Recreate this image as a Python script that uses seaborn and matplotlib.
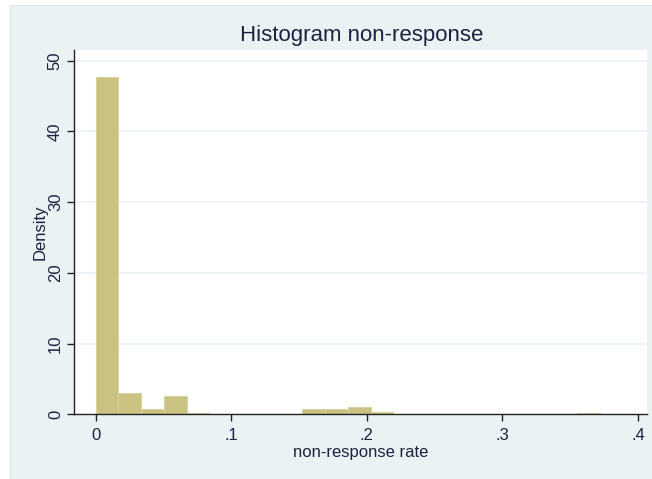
import numpy as np
import pandas as pd
import matplotlib
matplotlib.use("Agg")
import matplotlib.pyplot as plt
import seaborn as sns

# density per bin (bin start 0, width ~0.0169)
bin_start = 0.0
bin_width = 0.0169
density = [47.75, 2.97, 0.75, 2.55, 0.14, 0.0, 0.0, 0.0, 0.0, 0.75, 0.75,
           1.08, 0.28, 0.0, 0.0, 0.0, 0.0, 0.0, 0.0, 0.0, 0.0, 0.14]
x_ticks = [0, 0.1, 0.2, 0.3, 0.4]
x_tick_labels = ["0", ".1", ".2", ".3", ".4"]
y_ticks = [0, 10, 20, 30, 40, 50]

n_bins = len(density)
centers = bin_start + bin_width * (np.arange(n_bins) + 0.5)
df = pd.DataFrame({"rate": centers, "density": density})

sns.set_style("white")
plt.rcParams["font.family"] = ["Liberation Sans", "DejaVu Sans"]

text_col = "#1c2340"
outer_bg = "#eaf2f3"

fig = plt.figure(figsize=(6.52, 4.79), dpi=100)
fig.patch.set_facecolor("white")
fig.patches.append(plt.Rectangle((10 / 652, 0), 1, 474 / 479, transform=fig.transFigure,
                                 facecolor=outer_bg, edgecolor="#dde6e8", linewidth=0.8,
                                 zorder=-1))

ax = fig.add_axes([74 / 652, 64.7 / 479, 573 / 652, 364.3 / 479])
ax.set_facecolor("white")

sns.histplot(data=df, x="rate", weights="density", binwidth=bin_width,
             binrange=(bin_start, bin_start + n_bins * bin_width), stat="count",
             color="#c9c281", edgecolor="#d8d3a0", linewidth=0.8, alpha=1, ax=ax)

ax.set_xlim(-0.0159, 0.4067)
ax.set_ylim(0, 51.5)
ax.set_xticks(x_ticks)
ax.set_xticklabels(x_tick_labels)
ax.set_yticks(y_ticks)
ax.set_yticklabels([str(v) for v in y_ticks], rotation=90, va="center")

for v in y_ticks[1:]:
    ax.axhline(v, color=outer_bg, linewidth=1.2, zorder=0)

for s in ["top", "right"]:
    ax.spines[s].set_visible(False)
for s in ["left", "bottom"]:
    ax.spines[s].set_color("#222222")
    ax.spines[s].set_linewidth(1.0)

ax.tick_params(axis="both", direction="out", length=5, width=1, color="#222222",
               labelsize=12, labelcolor=text_col, left=True, bottom=True)
ax.tick_params(axis="x", pad=5)
ax.tick_params(axis="y", pad=3)

ax.set_xlabel("non-response rate", fontsize=12, color=text_col, labelpad=1)
ax.set_ylabel("Density", fontsize=12, color=text_col, labelpad=0)
fig.text(362 / 652, 1 - 35 / 479, "Histogram non-response", fontsize=16,
         color=text_col, ha="center", va="center")

fig.savefig("out.png", dpi=100)
